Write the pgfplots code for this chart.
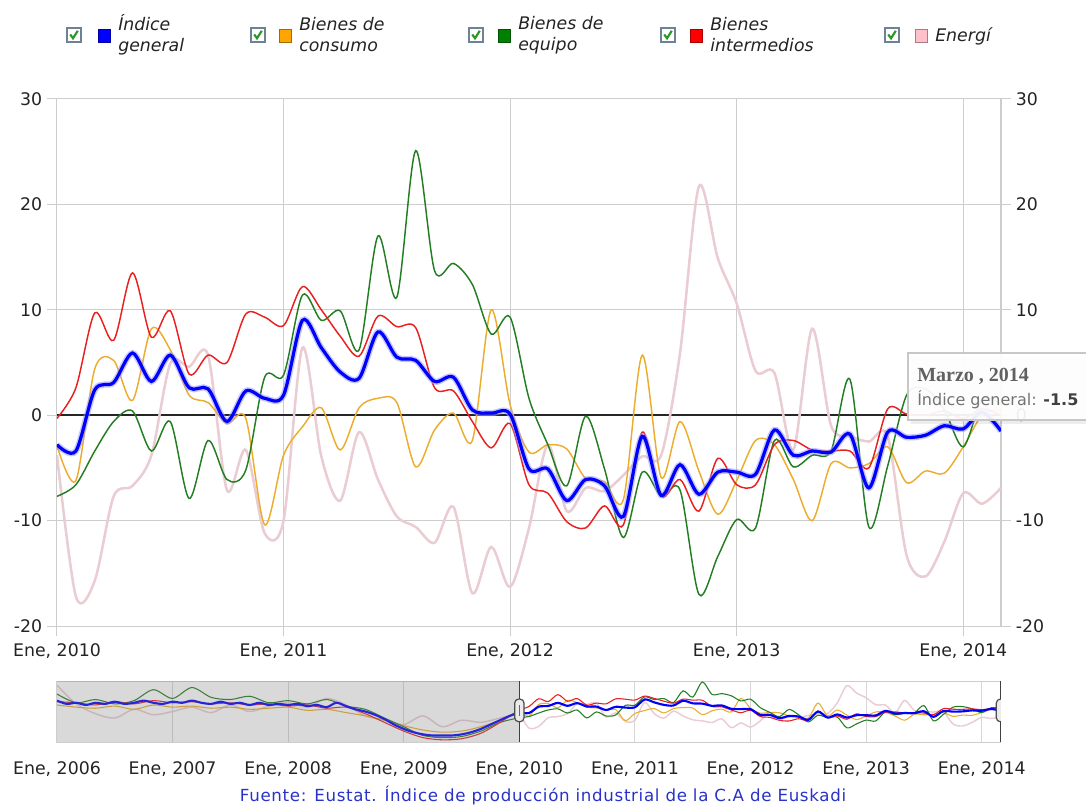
\documentclass[border=0pt]{standalone}
\usepackage{pgfplots}
\pgfplotsset{compat=1.18}
\usepackage{pgfplotstable}
\usepackage{fontspec}
\setmainfont{DejaVu Sans}
\newfontfamily\tipserif{Liberation Serif}
\definecolor{cgen}{RGB}{0,0,255}
\definecolor{ccon}{RGB}{236,172,45}
\definecolor{cequ}{RGB}{35,125,35}
\definecolor{cint}{RGB}{232,32,32}
\definecolor{cene}{RGB}{234,204,210}
\definecolor{lcon}{RGB}{255,165,0}
\definecolor{lequ}{RGB}{0,128,0}
\definecolor{lint}{RGB}{255,0,0}
\definecolor{lene}{RGB}{255,192,203}
\definecolor{gridc}{RGB}{205,205,205}
\definecolor{labc}{RGB}{35,35,35}
\definecolor{srcc}{RGB}{40,50,200}
\definecolor{chkb}{RGB}{110,130,150}
\definecolor{chkg}{RGB}{40,150,40}

% monthly data, x = months since Jan 2010
\pgfplotstableread{
x gen con equ int ene
0 -2.8 -2.9 -7.7 -0.3 -3.8
1 -3.4 -6.2 -6.6 2.6 -17.2
2 2.4 4.4 -3.4 9.7 -15.7
3 3.1 5.2 -0.6 7.1 -7.7
4 5.9 1.4 0.4 13.5 -6.7
5 3.2 8.2 -3.4 7.4 -3.8
6 5.7 6.2 -0.6 9.9 4.9
7 2.6 1.9 -7.9 3.9 4.6
8 2.5 1.2 -2.4 5.7 5.7
9 -0.6 -0.8 -6.1 5.0 -7.1
10 2.3 -0.3 -5.2 9.6 -3.3
11 1.6 -10.4 3.6 9.3 -11.2
12 1.9 -3.8 3.8 8.5 -10.0
13 9.0 -1.1 11.4 12.2 6.4
14 6.4 0.7 9.0 10.0 -3.9
15 4.1 -3.3 9.9 7.5 -8.1
16 3.5 0.7 6.2 5.6 -1.6
17 7.9 1.6 17.0 9.4 -6.1
18 5.5 1.2 11.2 8.4 -9.6
19 5.2 -4.9 25.1 8.3 -10.6
20 3.2 -1.4 13.7 2.6 -12.1
21 3.6 0.2 14.4 2.3 -8.7
22 0.5 -2.4 12.4 -0.6 -16.9
23 0.2 10.0 7.7 -3.1 -12.5
24 0.1 1.0 9.3 -0.8 -16.3
25 -5.1 -3.5 1.6 -6.6 -10.7
26 -5.1 -2.8 -2.8 -7.4 -2.8
27 -8.1 -3.2 -6.7 -10.1 -9.1
28 -6.1 -6.0 -0.1 -10.7 -6.9
29 -6.7 -6.3 -5.1 -8.6 -7.2
30 -9.6 -8.0 -11.6 -10.4 -5.7
31 -2.0 5.7 -5.4 -1.6 -3.9
32 -7.6 -5.9 -7.7 -7.7 -3.8
33 -4.7 -0.6 -7.1 -6.1 5.9
34 -7.5 -5.3 -17.0 -9.1 21.7
35 -5.4 -9.4 -13.4 -4.1 14.9
36 -5.4 -6.2 -9.9 -6.6 10.6
37 -5.6 -2.4 -10.7 -6.6 4.2
38 -1.4 -2.8 -2.4 -2.8 4.0
39 -3.8 -6.1 -4.9 -2.4 -3.3
40 -3.4 -10.0 -3.8 -3.3 8.2
41 -3.5 -4.6 -3.4 -3.4 -1.0
42 -1.8 -5.0 3.4 -3.4 -2.0
43 -6.9 -4.6 -10.6 -5.0 -2.5
44 -1.6 -3.0 -4.8 0.6 -2.0
45 -2.1 -6.4 1.9 0.1 -13.3
46 -1.9 -5.3 2.5 0.0 -15.3
47 -1.0 -5.5 0.5 0.4 -12.0
48 -1.3 -3.0 -3.0 -0.3 -7.4
49 0.3 0.0 1.5 0.6 -8.4
50 -1.5 0.5 1.0 0.0 -6.9
}\maindata

% navigator, 2006-2009, index general (monthly)
\pgfplotstableread{
x gen
-48 8
-47 5
-46 6
-45 4
-44 6
-43 5
-42 7
-41 5
-40 6
-39 8
-38 6
-37 5
-36 7
-35 6
-34 8
-33 6
-32 5
-31 7
-30 5
-29 6
-28 4
-27 6
-26 4
-25 5
-24 4
-23 5
-22 3
-21 4
-20 2
-19 6
-18 3
-17 0
-16 -2
-15 -5
-14 -9
-13 -14
-12 -18
-11 -21
-10 -23
-9 -24
-8 -24
-7 -24
-6 -23
-5 -21
-4 -18
-3 -14
-2 -10
-1 -6
0 -2.8
}\navgen

% navigator, 2006-2009, other series (every two months)
\pgfplotstableread{
x con equ int ene
-48 4 14 7 22
-46 2 6 6 5
-44 1 9 4 -4
-42 3 5 7 -8
-40 0 8 5 0
-38 4 18 8 -5
-36 2 10 6 -2
-34 3 20 7 2
-32 1 11 5 -3
-30 2 9 6 4
-28 0 12 4 -2
-26 1 6 5 3
-24 2 8 3 6
-22 -1 5 4 2
-20 0 9 1 10
-18 -3 3 2 4
-16 -6 0 -4 -6
-14 -10 -8 -12 -10
-12 -15 -16 -20 -14
-10 -19 -24 -26 -6
-8 -21 -26 -28 -16
-6 -20 -25 -27 -10
-4 -16 -20 -22 -12
-2 -10 -12 -12 -8
0 -2.9 -7.7 -0.3 -3.8
}\navoth

\newcommand{\chk}[2]{%
  \draw[draw=chkb, fill=white, line width=0.8pt] (#1-7,#2-7) rectangle (#1+7,#2+7);
  \draw[chkg, line width=1.6pt] (#1-3.8,#2-0.5) -- (#1-1,#2+3.3) -- (#1+3.8,#2-4.2);
}
\newcommand{\sq}[3]{%
  \draw[fill=#3, draw=#3!65!black, line width=0.6pt] (#1-6,#2-6.5) rectangle (#1+6,#2+6.5);
}

\begin{document}
\begin{tikzpicture}
\path[use as bounding box] (0pt,0pt) rectangle (814.5pt,-603.75pt);

% ---------------- main chart ----------------
\begin{axis}[
  at={(42.75pt,-469.5pt)}, anchor=south west,
  width=708pt, height=395.25pt, scale only axis,
  xmin=0, xmax=50, ymin=-20, ymax=30,
  enlargelimits=false,
  axis line style={gridc, line width=0.75pt},
  xtick={0,12,24,36,48},
  xticklabels={{Ene, 2010},{Ene, 2011},{Ene, 2012},{Ene, 2013},{Ene, 2014}},
  ytick={-20,-10,0,10,20,30},
  xtick pos=lower, ytick pos=left,
  tick align=outside, major tick length=7.5pt,
  tick style={gridc, line width=0.75pt},
  grid=major, major grid style={gridc, line width=0.75pt},
  /pgf/number format/assume math mode=true,
  tick label style={font=\fontsize{13}{15}\selectfont, text=labc},
  yticklabel style={anchor=east, inner sep=0pt, xshift=-3.5pt},
  xticklabel style={anchor=base, inner sep=0pt, yshift=-15pt},
  every axis plot/.append style={mark=none},
]
\addplot[black!85, line width=1.1pt] coordinates {(0,0) (50,0)};
\addplot[cene, line width=1.9pt, smooth] table[x=x,y=ene]{\maindata};
\addplot[ccon, line width=1.1pt, smooth] table[x=x,y=con]{\maindata};
\addplot[cequ, line width=1.1pt, smooth] table[x=x,y=equ]{\maindata};
\addplot[cint, line width=1.1pt, smooth] table[x=x,y=int]{\maindata};
\addplot[cgen!40, line width=4.6pt, smooth, opacity=0.55] table[x=x,y=gen]{\maindata};
\addplot[cgen, line width=2.4pt, smooth] table[x=x,y=gen]{\maindata};
\end{axis}

% right-hand y axis
\begin{axis}[
  at={(42.75pt,-469.5pt)}, anchor=south west,
  width=708pt, height=395.25pt, scale only axis,
  xmin=0, xmax=50, ymin=-20, ymax=30,
  enlargelimits=false,
  axis x line=none, axis y line*=right,
  axis line style={gridc, line width=0.75pt},
  ytick={-20,-10,0,10,20,30},
  tick align=outside, major tick length=7.5pt,
  tick style={gridc, line width=0.75pt},
  /pgf/number format/assume math mode=true,
  tick label style={font=\fontsize{13}{15}\selectfont, text=labc},
  yticklabel style={anchor=west, inner sep=0pt, xshift=3.5pt},
]
\end{axis}

% ---------------- navigator ----------------
\begin{axis}[
  at={(42.75pt,-556.5pt)}, anchor=south west,
  width=708pt, height=45.75pt, scale only axis,
  xmin=-48, xmax=50, ymin=-30, ymax=26,
  enlargelimits=false,
  axis line style={gridc, line width=0.75pt},
  ytick=\empty,
  xtick={-48,-36,-24,-12,0,12,24,36,48},
  xticklabels={{Ene, 2006},{Ene, 2007},{Ene, 2008},{Ene, 2009},{Ene, 2010},{Ene, 2011},{Ene, 2012},{Ene, 2013},{Ene, 2014}},
  xtick pos=lower, major tick length=0pt,
  xmajorgrids, major grid style={gridc!80, line width=0.75pt},
  tick label style={font=\fontsize{13}{15}\selectfont, text=labc},
  xticklabel style={anchor=base, inner sep=0pt, yshift=-24pt},
  every axis plot/.append style={mark=none},
]
\addplot[cene, line width=1.1pt, smooth] table[x=x,y=ene]{\navoth};
\addplot[cene, line width=1.1pt, smooth] table[x=x,y=ene]{\maindata};
\addplot[ccon, line width=0.8pt, smooth] table[x=x,y=con]{\navoth};
\addplot[ccon, line width=0.8pt, smooth] table[x=x,y=con]{\maindata};
\addplot[cequ, line width=0.8pt, smooth] table[x=x,y=equ]{\navoth};
\addplot[cequ, line width=0.8pt, smooth] table[x=x,y=equ]{\maindata};
\addplot[cint, line width=0.8pt, smooth] table[x=x,y=int]{\navoth};
\addplot[cint, line width=0.8pt, smooth] table[x=x,y=int]{\maindata};
\addplot[cgen, line width=1.6pt, smooth] table[x=x,y=gen]{\navgen};
\addplot[cgen, line width=1.6pt, smooth] table[x=x,y=gen]{\maindata};
\fill[black!50, opacity=0.3] (axis cs:-48,-30) rectangle (axis cs:0,26);
\draw[black!75, line width=1.2pt] (axis cs:0,-30) -- (axis cs:0,26);
\draw[black!75, line width=1.2pt] (axis cs:50,-30) -- (axis cs:50,26);
\node[draw=black!70, fill=black!8, rounded corners=3pt, minimum width=7pt, minimum height=17pt, inner sep=0pt, line width=0.9pt] at (axis cs:0,-1) {};
\node[draw=black!70, fill=black!8, rounded corners=3pt, minimum width=7pt, minimum height=17pt, inner sep=0pt, line width=0.9pt] at (axis cs:50,-1) {};
\draw[black!60, line width=0.6pt] ([yshift=-4pt]axis cs:0,-1) -- ([yshift=4pt]axis cs:0,-1);
\draw[black!60, line width=0.6pt] ([yshift=-4pt]axis cs:50,-1) -- ([yshift=4pt]axis cs:50,-1);
\end{axis}

% ---------------- legend, tooltip, source ----------------
\begin{scope}[x=0.75pt, y=-0.75pt]
  \chk{74}{35} \sq{104}{36}{cgen}
  \node[anchor=west, align=left, inner sep=0pt, font=\fontsize{13}{15.75}\selectfont\itshape, text=labc] at (118,35) {Índice\\general};
  \chk{258}{35} \sq{285}{36}{lcon}
  \node[anchor=west, align=left, inner sep=0pt, font=\fontsize{13}{15.75}\selectfont\itshape, text=labc] at (299,35) {Bienes de\\consumo};
  \chk{476}{35} \sq{504}{36}{lequ}
  \node[anchor=west, align=left, inner sep=0pt, font=\fontsize{13}{15.75}\selectfont\itshape, text=labc] at (518,35) {Bienes de\\equipo};
  \chk{668}{35} \sq{696}{36}{lint}
  \node[anchor=west, align=left, inner sep=0pt, font=\fontsize{13}{15.75}\selectfont\itshape, text=labc] at (710,35) {Bienes\\intermedios};
  \chk{892}{35} \sq{921}{36}{lene}
  \node[anchor=west, align=left, inner sep=0pt, font=\fontsize{13}{15.75}\selectfont\itshape, text=labc] at (935,36) {Energí};

  % tooltip
  \fill[black, opacity=0.07] (911,357) rectangle (1100,424);
  \draw[draw=black!22, fill=white, fill opacity=0.93, line width=0.8pt] (908,353) rectangle (1100,420);
  \node[anchor=base west, inner sep=0pt, font=\tipserif\bfseries\fontsize{15}{17}\selectfont, text=black!62] at (917,382) {Marzo , 2014};
  \node[anchor=base west, inner sep=0pt, font=\fontsize{12}{14}\selectfont, text=black!55] at (917,406) {Índice general: \textbf{\textcolor{black!75}{-1.5}}};

  % source
  \node[anchor=base, inner sep=0pt, text=srcc, font=\fontsize{12.5}{14}\selectfont\addfontfeatures{LetterSpace=4}] at (543,801) {Fuente: Eustat. Índice de producción industrial de la C.A de Euskadi};
\end{scope}
\end{tikzpicture}
\end{document}
